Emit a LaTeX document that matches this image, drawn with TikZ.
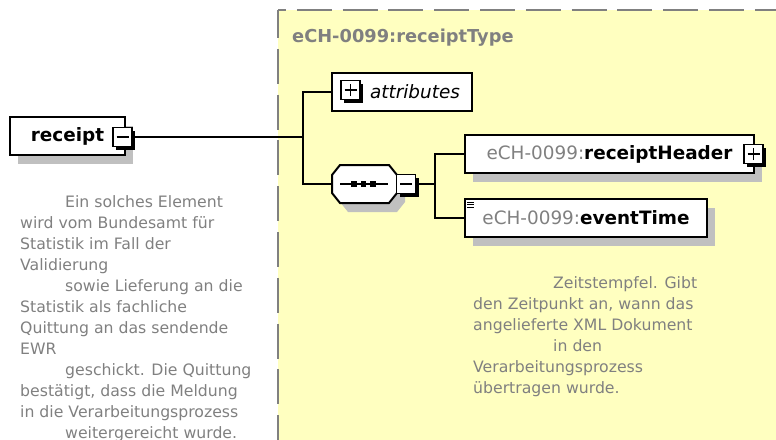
\documentclass[tikz,border=0pt]{standalone}
\usepackage{fontspec}
\setmainfont{DejaVu Sans}
\usepackage{tikz}
\usetikzlibrary{shadows}
\definecolor{xsdyellow}{RGB}{255,255,192}
\definecolor{xsdgray}{RGB}{128,128,128}
\definecolor{xsdshadow}{RGB}{192,192,192}
\tikzset{
  attrbox/.style={draw, fill=white, line width=2pt, inner sep=0pt},
  elembox/.style={attrbox, drop shadow={shadow xshift=8pt, shadow yshift=-9pt, fill=xsdshadow, opacity=1}},
  pmbox/.style={draw, fill=white, line width=1.5pt, minimum size=19pt, inner sep=0pt,
    drop shadow={shadow xshift=3pt, shadow yshift=-3pt, fill=black, opacity=1}},
  minusbox/.style={pmbox, path picture={
    \draw[line width=1.4pt] ([xshift=-6pt]path picture bounding box.center) -- ([xshift=6pt]path picture bounding box.center);}},
  plusbox/.style={pmbox, path picture={
    \draw[line width=1.4pt] ([xshift=-6pt]path picture bounding box.center) -- ([xshift=6pt]path picture bounding box.center);
    \draw[line width=1.4pt] ([yshift=-6pt]path picture bounding box.center) -- ([yshift=6pt]path picture bounding box.center);}},
  doctext/.style={anchor=north west, inner sep=0pt, align=left, text=xsdgray, font=\fontsize{15.7}{21}\selectfont},
  conn/.style={line width=2pt}
}

\begin{document}
\begin{tikzpicture}[line join=miter,x=1pt,y=-1pt]
  \useasboundingbox (0,0) rectangle (776,439);
  \clip (0,0) rectangle (776,439);
  % complex type area
  \fill[xsdyellow] (278,10) rectangle (790,450);
  \draw[xsdgray, line width=2pt, dash pattern=on 35pt off 10.8pt, dash phase=27pt] (278,10) -- (790,10);
  \draw[xsdgray, line width=2pt, dash pattern=on 35pt off 10.8pt, dash phase=7pt] (278,10) -- (278,450);
  \node[anchor=base west, inner sep=0pt, text=xsdgray, font=\bfseries\fontsize{17.8}{21}\selectfont] (typename) at (292,42) {eCH-0099:receiptType};

  % root element
  \node[elembox, minimum width=115pt, minimum height=38pt, font=\bfseries\fontsize{18.4}{22}\selectfont] (receipt) at (67.5,136) {receipt\hspace{3pt}};
  \node[minusbox] (receiptminus) at (122.5,137) {};
  \node[doctext] (receiptdoc) at (20,195.1) {\hspace*{45pt}Ein solches Element\\wird vom Bundesamt für\\Statistik im Fall der\\Validierung\\\hspace*{45pt}sowie Lieferung an die\\Statistik als fachliche\\Quittung an das sendende\\EWR\\\hspace*{45pt}geschickt. Die Quittung\\bestätigt, dass die Meldung\\in die Verarbeitungsprozess\\\hspace*{45pt}weitergereicht wurde.};

  % attributes and sequence
  \node[attrbox, minimum width=140pt, minimum height=38pt, font=\itshape\fontsize{18.4}{22}\selectfont] (attr) at (402,92) {\hspace{26pt}attributes};
  \node[plusbox] (attrplus) at (350.5,90) {};
  \node[minimum width=65pt, minimum height=38pt, inner sep=0pt] (seq) at (364.5,184) {};
  \fill[xsdshadow] (340,174) -- (348,174) -- (397,174) -- (405,184) -- (405,202) -- (397,212) -- (348,212) -- (340,202) -- cycle;
  \draw[line width=2pt, fill=white] (332,175) -- (340,165) -- (389,165) -- (397,175) -- (397,193) -- (389,203) -- (340,203) -- (332,193) -- cycle;
  \draw[line width=1.6pt] (340,184) -- (388,184);
  \fill (351,181.2) rectangle (356.6,186.8);
  \fill (360.7,181.2) rectangle (366.3,186.8);
  \fill (370.4,181.2) rectangle (376,186.8);
  \node[minusbox] (seqminus) at (406,184) {};

  % child elements
  \node[elembox, minimum width=289pt, minimum height=38pt, font=\fontsize{18.4}{22}\selectfont] (hdr) at (609.5,154) {\textcolor{xsdgray}{eCH-0099:}\textbf{receiptHeader}\hspace{9pt}};
  \node[plusbox] (hdrplus) at (753.5,154) {};
  \node[elembox, minimum width=242pt, minimum height=38pt, font=\fontsize{18.4}{22}\selectfont] (evt) at (586,218) {\textcolor{xsdgray}{eCH-0099:}\textbf{eventTime}};
  \draw[line width=0.9pt] (467,202) -- (474,202) (467,204.5) -- (474,204.5) (467,207) -- (474,207);
  \node[doctext] (evtdoc) at (473,276.1) {\hspace*{80pt}Zeitstempfel. Gibt\\den Zeitpunkt an, wann das\\angelieferte XML Dokument\\\hspace*{80pt}in den\\Verarbeitungsprozess\\übertragen wurde.};

  % connectors
  \coordinate (fork) at (303,137);
  \coordinate (fork2) at (435,184);
  \draw[conn] (receiptminus.east) -- (fork);
  \draw[conn] (attr.west) -| (fork) |- (seq.west);
  \draw[conn] (seqminus.east) -- (fork2);
  \draw[conn] (hdr.west) -| (fork2) |- (evt.west);
\end{tikzpicture}
\end{document}
